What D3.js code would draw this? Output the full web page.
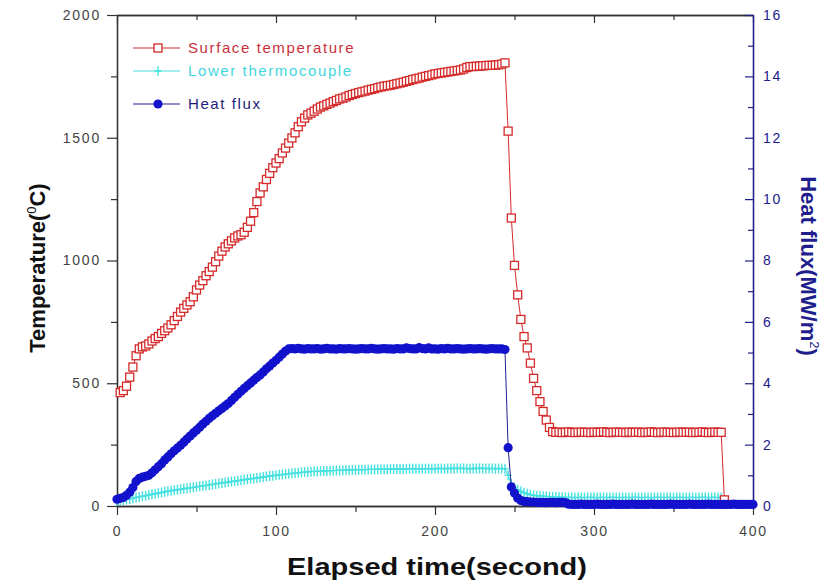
<!DOCTYPE html>
<html>
<head>
<meta charset="utf-8">
<script src="https://cdn.jsdelivr.net/npm/d3@7"></script>
<style>
  body { margin: 0; background: #fff; }
  svg { display: block; font-family: "Liberation Sans", Arial, sans-serif; }
</style>
</head>
<body>
<svg id="chart" width="825" height="582"></svg>
<script>
// Logging clock, seconds (2 s interval)
const sampleTimes = [
  0,2,4,6,8,10,12,14,16,18,20,22,24,26,28,30,32,34,36,38,40,42,44,46,48,50,
  52,54,56,58,60,62,64,66,68,70,72,74,76,78,80,82,84,86,88,90,92,94,96,98,100,
  102,104,106,108,110,112,114,116,118,120,122,124,126,128,130,132,134,136,138,140,
  142,144,146,148,150,152,154,156,158,160,162,164,166,168,170,172,174,176,178,180,
  182,184,186,188,190,192,194,196,198,200,202,204,206,208,210,212,214,216,218,220,
  222,224,226,228,230,232,234,236,238,240,242,244,246,248,250,252,254,256,258,260,
  262,264,266,268,270,272,274,276,278,280,282,284,286,288,290,292,294,296,298,300,
  302,304,306,308,310,312,314,316,318,320,322,324,326,328,330,332,334,336,338,340,
  342,344,346,348,350,352,354,356,358,360,362,364,366,368,370,372,374,376,378,380,
  382,384,386,388,390,392,394,396,398,400
];

// Surface temperature, degC
const surfaceTemp = [
  null,
  462,470,488,525,566,612,640,648,652,660,672,682,690,703,714,725,738,755,772,790,
  805,819,832,852,880,900,918,938,955,973,995,1018,1038,1055,
  1068,1080,1092,1100,1105,1115,1135,1160,1195,1240,1275,1300,1330,1355,1378,1397,
  1415,1438,1458,1478,1499,1520,1545,1565,1580,1593,1600,1608,1617,1625,1630,1636,
  1641,1647,1652,1658,1661,1666,1672,1676,1680,1684,1687,1690,1694,1697,1700,1704,
  1707,1710,1712,1714,1717,1720,1723,1726,1730,1733,1737,1740,1743,1747,1750,1753,
  1756,1760,1762,1764,1766,1768,1770,1772,1774,1776,1780,1786,1790,1790,1791,1792,
  1793,1794,1795,1795,1796,1797,1800,1805,
  1527,1173,980,860,760,690,644,582,520,470,425,385,350,320,303,
  300,301,299,300,302,300,299,300,301,300,300,299,301,300,300,302,300,299,300,301,
  300,300,299,301,300,300,301,299,300,300,302,300,299,300,301,300,300,299,300,301,
  300,300,301,299,300,300,302,300,299,300,301,300,300,
  25,
  null,null,null,null,null,null,null,null,null
];

// Lower thermocouple, degC
const lowerTemp = [
  20,22,24,27,29,32,35,37,40,42,45,48,50,53,55,58,60,62,64,66,68,70,72,74,76,78,
  80,82,84,86,88,90,92,94,96,98,100,101,103,105,107,109,111,112,114,116,118,120,122,123,125,
  127,128,130,131,133,134,135,137,138,139,140,141,141,142,143,143,144,144,145,145,
  146,146,147,147,147,148,148,148,149,149,149,150,150,150,150,151,151,151,151,151,
  152,152,152,152,152,152,152,152,152,152,
  153,153,152,153,153,153,154,153,153,153,152,153,153,154,153,153,153,153,152,153,153,152,
  125,90,75,66,59,54,50,46,44,42,41,40,39,38,37,37,36,36,35,
  35,35,34,35,35,34,35,35,35,34,35,35,34,35,35,35,34,35,35,34,
  35,35,35,34,35,35,34,35,35,35,34,35,35,34,35,35,35,34,35,35,
  34,35,35,35,34,35,35,34,35,
  null,null,null,null,null,null,null,null,null,null
];

// Heat flux, MW/m2
const heatFlux = [
  0.22,0.25,0.28,0.35,0.45,0.60,0.80,0.90,0.94,0.97,1.00,1.08,1.18,1.28,1.38,1.50,
  1.60,1.70,1.80,1.89,1.98,2.08,2.18,2.28,2.38,2.47,2.57,2.67,2.76,2.86,2.94,3.02,
  3.10,3.18,3.26,3.34,3.44,3.54,3.64,3.74,3.83,3.92,4.01,4.10,4.19,4.27,4.37,4.47,
  4.56,4.66,4.75,4.85,4.95,5.05,5.12,
  5.13,5.12,5.14,5.12,5.11,5.13,5.12,5.12,5.13,5.11,5.12,5.14,5.12,5.12,5.11,5.13,
  5.12,5.12,5.13,5.12,5.11,5.12,5.13,5.12,5.12,5.14,5.12,5.11,5.12,5.13,5.12,5.12,
  5.11,5.13,5.12,5.12,5.15,5.13,5.12,5.12,5.16,5.13,5.12,5.15,5.12,5.12,5.11,5.13,
  5.12,5.14,5.12,5.12,5.13,5.12,5.11,5.12,5.13,5.12,5.12,5.13,5.12,5.11,5.12,5.13,
  5.12,5.12,5.12,5.10,
  1.90,0.62,0.42,0.26,0.18,0.15,0.14,0.13,
  0.13,0.12,0.12,0.12,0.11,0.12,0.12,0.11,0.12,0.12,0.11,
  0.06,0.05,0.05,0.05,0.06,0.05,0.05,0.05,0.05,0.06,0.05,0.05,0.05,0.05,0.06,0.05,
  0.05,0.05,0.05,0.05,0.06,0.05,0.05,0.05,0.05,0.05,0.06,0.05,0.05,0.05,0.05,0.05,
  0.06,0.05,0.05,0.05,0.05,0.05,0.06,0.05,0.05,0.05,0.05,0.05,0.06,0.05,0.05,0.05,
  0.05,0.05,0.05,0.05,0.06,0.05,0.05,0.05,0.05,0.05,0.05
];

const timeTicks = [0, 100, 200, 300, 400];
const timeMinor = [50, 150, 250, 350];
const tempTicks = [0, 500, 1000, 1500, 2000];
const tempMinor = [250, 750, 1250, 1750];
const fluxTicks = [0, 2, 4, 6, 8, 10, 12, 14, 16];
const fluxMinor = [1, 3, 5, 7, 9, 11, 13, 15];

const legendLabels = ["Surface temperature", "Lower thermocouple", "Heat flux"];

const RED = "#d42a2a", RED_TEXT = "#c8303c";
const CYAN = "#46e0e0", CYAN_TEXT = "#3fd6de";
const BLUE = "#1212cc", NAVY = "#20208c", NAVY_TEXT = "#1c1c7c";
const AXIS = "#333";

const svg = d3.select("#chart");

const x = d3.scaleLinear().domain([0, 400]).range([117, 753]);
const yT = d3.scaleLinear().domain([0, 2000]).range([506, 15]);
const yQ = d3.scaleLinear().domain([0, 16]).range([506, 15]);

const plotLeft = x.range()[0], plotRight = x.range()[1];
const plotTop = yT.range()[1], plotBottom = yT.range()[0];
const plain = d3.format("d");

function styleAxis(g, color, labelColor) {
  g.selectAll("path.domain").attr("stroke", color).attr("stroke-width", 1.3);
  g.selectAll(".tick line").attr("stroke", color).attr("stroke-width", 1.2);
  g.selectAll(".tick text")
    .attr("fill", labelColor || color)
    .style("font-size", "14px")
    .style("letter-spacing", "1.8px");
}

// bottom axis (outward ticks)
svg.append("g").attr("transform", `translate(0,${plotBottom})`)
  .call(d3.axisBottom(x).tickValues(timeMinor).tickSize(6).tickSizeOuter(0).tickFormat(""))
  .call(g => styleAxis(g, AXIS));
svg.append("g").attr("transform", `translate(0,${plotBottom})`)
  .call(d3.axisBottom(x).tickValues(timeTicks).tickFormat(plain).tickSize(9).tickPadding(11).tickSizeOuter(0))
  .call(g => styleAxis(g, AXIS, "#444"));

// top frame (inward ticks, no labels)
svg.append("g").attr("transform", `translate(0,${plotTop})`)
  .call(d3.axisTop(x).tickValues(timeMinor).tickSize(-5).tickSizeOuter(0).tickFormat(""))
  .call(g => styleAxis(g, AXIS));
svg.append("g").attr("transform", `translate(0,${plotTop})`)
  .call(d3.axisTop(x).tickValues(timeTicks).tickSize(-8).tickSizeOuter(0).tickFormat(""))
  .call(g => styleAxis(g, AXIS));

// left temperature axis (outward ticks)
svg.append("g").attr("transform", `translate(${plotLeft},0)`)
  .call(d3.axisLeft(yT).tickValues(tempMinor).tickSize(6).tickSizeOuter(0).tickFormat(""))
  .call(g => styleAxis(g, AXIS));
svg.append("g").attr("transform", `translate(${plotLeft},0)`)
  .call(d3.axisLeft(yT).tickValues(tempTicks).tickFormat(plain).tickSize(10).tickPadding(6).tickSizeOuter(0))
  .call(g => styleAxis(g, AXIS, "#444"));

// right heat-flux axis (inward ticks)
svg.append("g").attr("transform", `translate(${plotRight},0)`)
  .call(d3.axisRight(yQ).tickValues(fluxMinor).tickSize(-5).tickSizeOuter(0).tickFormat(""))
  .call(g => styleAxis(g, NAVY));
svg.append("g").attr("transform", `translate(${plotRight},0)`)
  .call(d3.axisRight(yQ).tickValues(fluxTicks).tickFormat(plain).tickSize(-8).tickPadding(10).tickSizeOuter(0))
  .call(g => styleAxis(g, NAVY));

// series records
function records(values) {
  return sampleTimes.map((t, i) => ({ t, v: values[i] })).filter(d => d.v != null);
}
const surf = records(surfaceTemp);
const lower = records(lowerTemp);
const flux = records(heatFlux);

const plot = svg.append("g");
const PLUS = "M-3.5,0H3.5M0,-5V5";
const SQ = 8;

// lower thermocouple: cyan line with plus markers
plot.append("path").datum(lower)
  .attr("fill", "none").attr("stroke", CYAN).attr("stroke-width", 1)
  .attr("d", d3.line().x(d => x(d.t)).y(d => yT(d.v)));
plot.append("g").selectAll("path").data(lower).join("path")
  .attr("transform", d => `translate(${x(d.t)},${yT(d.v)})`)
  .attr("d", PLUS)
  .attr("stroke", CYAN).attr("stroke-width", 1.4).attr("fill", "none");

// surface temperature: red line with open squares
plot.append("path").datum(surf)
  .attr("fill", "none").attr("stroke", RED).attr("stroke-width", 1)
  .attr("d", d3.line().x(d => x(d.t)).y(d => yT(d.v)));
plot.append("g").selectAll("rect").data(surf).join("rect")
  .attr("x", d => x(d.t) - SQ / 2).attr("y", d => yT(d.v) - SQ / 2)
  .attr("width", SQ).attr("height", SQ)
  .attr("fill", "#fff").attr("stroke", RED).attr("stroke-width", 1.3);

// heat flux: navy line with filled circles
plot.append("path").datum(flux)
  .attr("fill", "none").attr("stroke", NAVY).attr("stroke-width", 1)
  .attr("d", d3.line().x(d => x(d.t)).y(d => yQ(d.v)));
plot.append("g").selectAll("circle").data(flux).join("circle")
  .attr("cx", d => x(d.t)).attr("cy", d => yQ(d.v)).attr("r", 4.6)
  .attr("fill", BLUE);

// legend
const legend = svg.append("g").style("font-size", "15px").style("letter-spacing", "1.6px");
const legendRows = [
  { y: 48, line: RED, text: RED_TEXT, mark: "square" },
  { y: 71, line: CYAN, text: CYAN_TEXT, mark: "plus" },
  { y: 104, line: NAVY, text: NAVY_TEXT, mark: "circle" }
];
legendRows.forEach((r, i) => {
  legend.append("line").attr("x1", 133).attr("x2", 180).attr("y1", r.y).attr("y2", r.y)
    .attr("stroke", r.line).attr("stroke-width", 1.2);
  if (r.mark === "square") {
    legend.append("rect").attr("x", 158 - SQ / 2).attr("y", r.y - SQ / 2).attr("width", SQ).attr("height", SQ)
      .attr("fill", "#fff").attr("stroke", RED).attr("stroke-width", 1.3);
  } else if (r.mark === "plus") {
    legend.append("path").attr("transform", `translate(158,${r.y})`)
      .attr("d", PLUS).attr("stroke", CYAN).attr("stroke-width", 1.4);
  } else {
    legend.append("circle").attr("cx", 158).attr("cy", r.y).attr("r", 4.6).attr("fill", BLUE);
  }
  legend.append("text").attr("x", 188).attr("y", r.y).attr("dy", "0.36em")
    .attr("fill", r.text).text(legendLabels[i]);
});

// axis titles
svg.append("text")
  .attr("x", 437).attr("y", 575)
  .attr("text-anchor", "middle")
  .attr("textLength", 300).attr("lengthAdjust", "spacingAndGlyphs")
  .style("font-size", "24px").style("font-weight", "bold").attr("fill", "#111")
  .text("Elapsed time(second)");

const tTitle = svg.append("text")
  .attr("transform", "translate(45,268) rotate(-90)")
  .attr("text-anchor", "middle")
  .style("font-size", "22px").style("font-weight", "bold").attr("fill", "#111");
tTitle.append("tspan").text("Temperature(");
tTitle.append("tspan").attr("dy", -9).style("font-size", "13px").style("font-weight", "normal").text("0");
tTitle.append("tspan").attr("dy", 9).text("C)");

const qTitle = svg.append("text")
  .attr("transform", "translate(801,266) rotate(90)")
  .attr("text-anchor", "middle")
  .style("font-size", "22px").style("font-weight", "bold").attr("fill", "#1e1e8c");
qTitle.append("tspan").text("Heat flux(MW/m");
qTitle.append("tspan").attr("dy", -9).style("font-size", "13px").style("font-weight", "normal").text("2");
qTitle.append("tspan").attr("dy", 9).text(")");
</script>
</body>
</html>
